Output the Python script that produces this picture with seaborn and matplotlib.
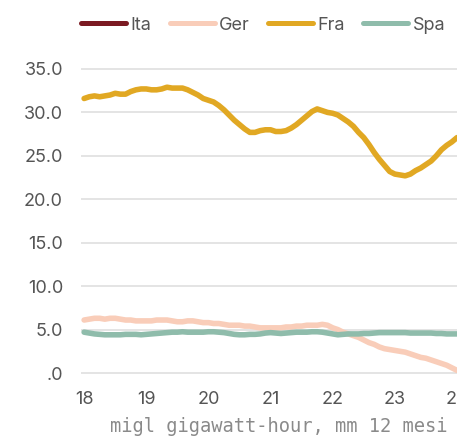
import numpy as np
import pandas as pd
import matplotlib.pyplot as plt
import seaborn as sns
from matplotlib.lines import Line2D

# serie mensili (mm 12 mesi), gen 2018 -> gen 2024
fra = [31.6, 31.8, 31.9, 31.8, 31.9, 32.0, 32.2, 32.1, 32.1, 32.4, 32.6, 32.7,
       32.7, 32.6, 32.6, 32.7, 32.9, 32.8, 32.8, 32.8, 32.6, 32.3, 32.0, 31.6,
       31.4, 31.2, 30.8, 30.3, 29.7, 29.1, 28.6, 28.1, 27.7, 27.7, 27.9, 28.0,
       28.0, 27.8, 27.8, 27.9, 28.2, 28.6, 29.1, 29.6, 30.1, 30.4, 30.2, 30.0,
       29.9, 29.7, 29.3, 28.9, 28.4, 27.7, 27.1, 26.3, 25.4, 24.6, 23.9, 23.2,
       22.9, 22.8, 22.7, 22.9, 23.3, 23.6, 24.0, 24.4, 25.0, 25.7, 26.2, 26.6,
       27.1]
ger = [6.1, 6.2, 6.3, 6.3, 6.2, 6.3, 6.3, 6.2, 6.1, 6.1, 6.0, 6.0,
       6.0, 6.0, 6.1, 6.1, 6.1, 6.0, 5.9, 5.9, 6.0, 6.0, 5.9, 5.8,
       5.8, 5.7, 5.7, 5.6, 5.5, 5.5, 5.5, 5.4, 5.4, 5.3, 5.2, 5.2,
       5.2, 5.2, 5.2, 5.3, 5.3, 5.4, 5.4, 5.5, 5.5, 5.5, 5.6, 5.5,
       5.2, 5.0, 4.7, 4.5, 4.3, 4.1, 3.8, 3.5, 3.3, 3.0, 2.8, 2.7,
       2.6, 2.5, 2.4, 2.2, 2.0, 1.8, 1.7, 1.5, 1.3, 1.1, 0.9, 0.6,
       0.3]
spa = [4.7, 4.6, 4.5, 4.45, 4.4, 4.4, 4.4, 4.4, 4.45, 4.45, 4.45, 4.4,
       4.45, 4.5, 4.55, 4.6, 4.65, 4.7, 4.7, 4.75, 4.7, 4.7, 4.7, 4.7,
       4.75, 4.75, 4.7, 4.65, 4.55, 4.45, 4.4, 4.4, 4.45, 4.45, 4.5, 4.6,
       4.65, 4.6, 4.55, 4.6, 4.65, 4.7, 4.7, 4.7, 4.75, 4.75, 4.7, 4.6,
       4.5, 4.4, 4.45, 4.5, 4.5, 4.5, 4.55, 4.55, 4.6, 4.65, 4.65, 4.65,
       4.65, 4.65, 4.65, 4.6, 4.6, 4.6, 4.6, 4.6, 4.55, 4.55, 4.5, 4.5,
       4.5]

countries = ['Ita', 'Ger', 'Fra', 'Spa']
colors = {'Ita': '#7b1a22', 'Ger': '#f9cdb9', 'Fra': '#e1a823', 'Spa': '#8fbcab'}
x_ticks = [18, 19, 20, 21, 22, 23, 24]
y_ticks = [0, 5, 10, 15, 20, 25, 30, 35]
y_labels = ['.0', '5.0', '10.0', '15.0', '20.0', '25.0', '30.0', '35.0']

months = np.arange(len(fra))
year = 18 + months / 12
df = pd.concat([
    pd.DataFrame({'anno': year, 'valore': fra, 'paese': 'Fra'}),
    pd.DataFrame({'anno': year, 'valore': ger, 'paese': 'Ger'}),
    pd.DataFrame({'anno': year, 'valore': spa, 'paese': 'Spa'}),
], ignore_index=True)

sns.set_style('white')
plt.rcParams['font.family'] = ['Inter', 'DejaVu Sans']

fig = plt.figure(figsize=(4.57, 4.36), dpi=100)
ax = fig.add_axes([81 / 457, 54.3 / 436, 1 - 81 / 457, 330.1 / 436])

for c in ['Fra', 'Ger', 'Spa']:
    sns.lineplot(data=df[df['paese'] == c], x='anno', y='valore', color=colors[c],
                 lw=4, ax=ax, legend=False, solid_capstyle='round')

ax.set_xlim(17.95, 24.0)
ax.set_ylim(-1, 37)
ax.set_yticks(y_ticks)
ax.set_yticklabels(y_labels)
ax.set_xticks(x_ticks)
ax.set_xticklabels([str(t) for t in x_ticks])
ax.tick_params(axis='both', length=0, labelsize=13, labelcolor='#555555')
ax.tick_params(axis='y', pad=13)
ax.tick_params(axis='x', pad=7)
ax.yaxis.grid(True, color='#dddddd', lw=1.1)
ax.xaxis.grid(False)
ax.set_axisbelow(True)
for s in ax.spines.values():
    s.set_visible(False)
ax.set_xlabel('')
ax.set_ylabel('')

fig.text(279 / 457, 4.5 / 436, 'migl gigawatt-hour, mm 12 mesi', ha='center', va='baseline',
         fontsize=13.5, color='#8a8a8a', family='DejaVu Sans Mono')

handles = [Line2D([], [], color=colors[c], lw=3.6, solid_capstyle='round') for c in countries]
fig.legend(handles, countries, loc='center left', bbox_to_anchor=(81 / 457, 1 - 25 / 436),
           ncol=4, frameon=False, fontsize=13, labelcolor='#555555', handlelength=2.5,
           handletextpad=0.25, columnspacing=1.0, borderaxespad=0, borderpad=0)

fig.savefig('out.png', dpi=100)
